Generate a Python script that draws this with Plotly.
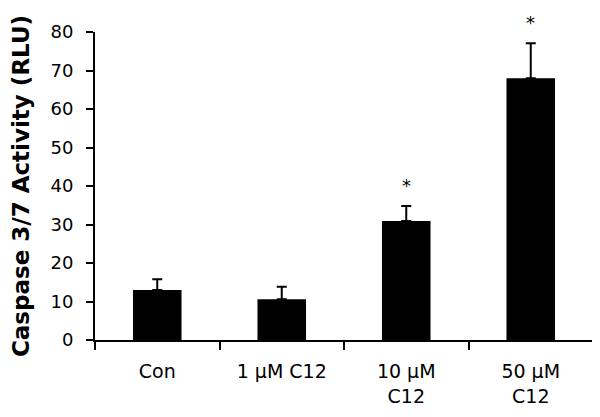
import plotly.graph_objects as go

categories = ["Con", "1 µM C12", "10 µM<br>C12", "50 µM<br>C12"]
means = [13.0, 10.6, 30.9, 68.0]
err_up = [2.8, 3.2, 3.9, 9.1]
significant = [False, False, True, True]
y_ticks = [0, 10, 20, 30, 40, 50, 60, 70, 80]

FONT = "DejaVu Sans, Verdana, sans-serif"

fig = go.Figure()
fig.add_trace(go.Bar(
    x=categories, y=means, width=0.39,
    marker=dict(color="black", line=dict(width=0)),
    error_y=dict(type="data", symmetric=False, array=err_up,
                 arrayminus=[0] * len(means), color="black",
                 thickness=2, width=5),
    showlegend=False,
))

for c, m, e, s in zip(categories, means, err_up, significant):
    if s:
        fig.add_annotation(x=c, y=m + e, text="*", showarrow=False,
                           yanchor="bottom", yshift=8,
                           font=dict(family=FONT, size=18, color="black"))

# page body has an 8px default margin, so the figure is sized 592x409
fig.update_layout(
    width=592, height=409,
    margin=dict(l=87, r=7, t=24, b=77),
    paper_bgcolor="white", plot_bgcolor="white",
    font=dict(family=FONT, size=19, color="black"),
)
fig.update_xaxes(
    showline=True, linecolor="black", linewidth=2,
    ticks="outside", tickson="boundaries", ticklen=8, tickwidth=2,
    tickcolor="black", tickfont=dict(size=19), showgrid=False,
    automargin=False, ticklabelstandoff=13,
)
fig.update_yaxes(
    range=[0, 80], tickvals=y_ticks, showline=True, linecolor="black",
    linewidth=2, ticks="outside", ticklen=7, tickwidth=2, tickcolor="black",
    tickfont=dict(size=18), showgrid=False, zeroline=False,
    automargin=False, ticklabelstandoff=9,
    title=dict(text="<b>Caspase 3/7 Activity (RLU)</b>",
               font=dict(size=23), standoff=14),
)

fig.write_html("out.html")
